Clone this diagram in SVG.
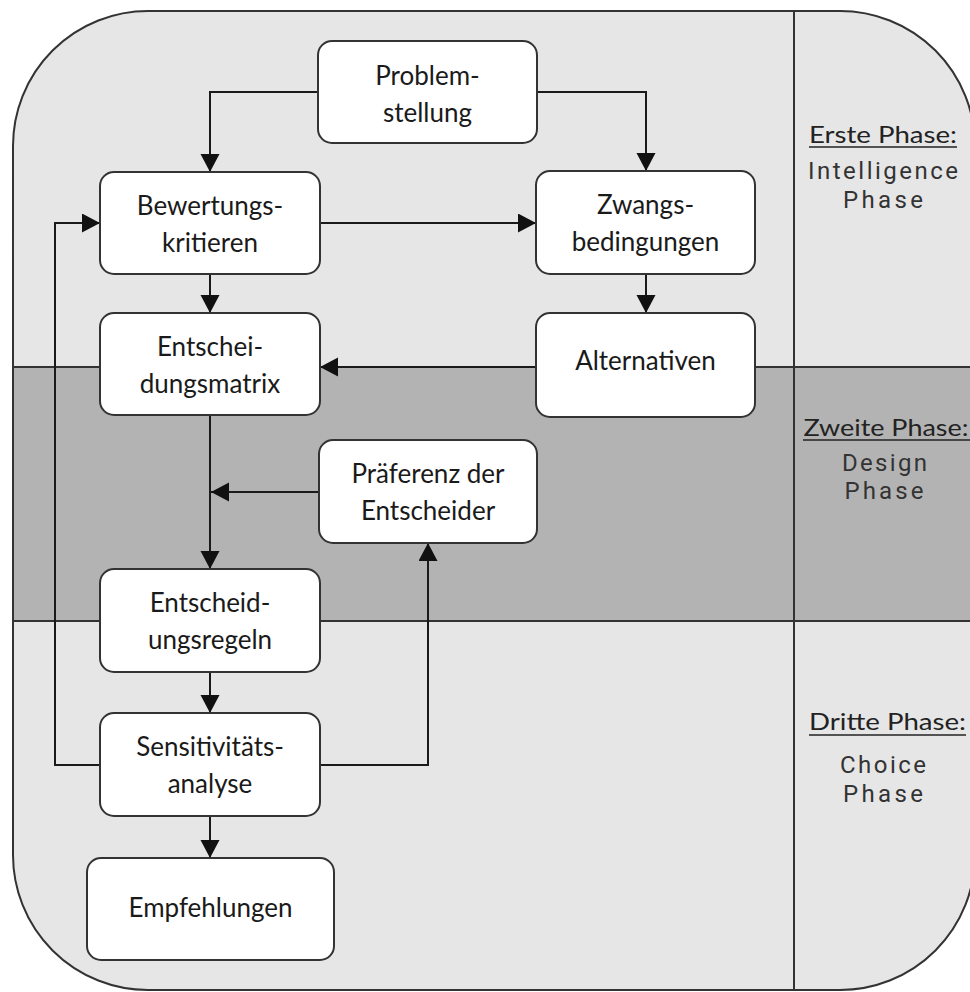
<svg xmlns="http://www.w3.org/2000/svg" width="970" height="992" viewBox="0 0 970 992">
<defs>
<marker id="ah" markerUnits="userSpaceOnUse" markerWidth="20" markerHeight="20" refX="18" refY="9.5" orient="auto">
<path d="M0,0 L18,9.5 L0,19 z" fill="#111"/>
</marker>
<clipPath id="outer"><rect x="13" y="11" width="962" height="979" rx="135" ry="135"/></clipPath>
</defs>
<style>
.node rect{fill:#fff;stroke:#333;stroke-width:2}
.node text{font-family:Lato,"Open Sans","Liberation Sans",sans-serif;font-size:26px;fill:#1a1a1a;text-anchor:middle}
.conn path{fill:none;stroke:#1a1a1a;stroke-width:2}
.conn path.a{marker-end:url(#ah)}
.sep{stroke:#333;stroke-width:2;fill:none}
.ph{font-family:Lato,"Liberation Sans",sans-serif;font-size:23px;fill:#222;text-anchor:middle}
.pn{font-family:Roboto,"Liberation Sans",Arial,sans-serif;font-size:24px;fill:#333;text-anchor:middle}
</style>
<g id="background">
<rect x="13" y="11" width="962" height="979" rx="135" ry="135" fill="#e6e6e6"/>
<rect x="0" y="367" width="980" height="254" fill="#b3b3b3" clip-path="url(#outer)"/>
<line class="sep" x1="13" y1="367" x2="975" y2="367"/>
<line class="sep" x1="13" y1="621" x2="975" y2="621"/>
<line class="sep" x1="794" y1="11" x2="794" y2="990"/>
<rect x="13" y="11" width="962" height="979" rx="135" ry="135" fill="none" stroke="#333" stroke-width="2"/>
</g>
<g id="phases">
<text class="ph" x="883" y="143" textLength="148" lengthAdjust="spacingAndGlyphs">Erste Phase:</text>
<line x1="809" y1="147" x2="957" y2="147" stroke="#222" stroke-width="1.5"/>
<text class="pn" x="883" y="179" textLength="150" lengthAdjust="spacing">Intelligence</text>
<text class="pn" x="883" y="208" textLength="80" lengthAdjust="spacing">Phase</text>
<text class="ph" x="886" y="436" textLength="165" lengthAdjust="spacingAndGlyphs">Zweite Phase:</text>
<line x1="803" y1="440" x2="970" y2="440" stroke="#222" stroke-width="1.5"/>
<text class="pn" x="884.5" y="471" textLength="85" lengthAdjust="spacing">Design</text>
<text class="pn" x="884" y="499" textLength="79" lengthAdjust="spacing">Phase</text>
<text class="ph" x="887.5" y="730" textLength="157" lengthAdjust="spacingAndGlyphs">Dritte Phase:</text>
<line x1="809" y1="735" x2="966" y2="735" stroke="#222" stroke-width="1.5"/>
<text class="pn" x="883" y="773" textLength="86" lengthAdjust="spacing">Choice</text>
<text class="pn" x="883" y="802" textLength="80" lengthAdjust="spacing">Phase</text>
</g>
<g id="connectors" class="conn">
<path class="a" d="M318,92 H210 V172"/>
<path class="a" d="M537,92 H646 V171"/>
<path class="a" d="M320,223 H536"/>
<path class="a" d="M210,274 V313"/>
<path class="a" d="M646,274 V313"/>
<path class="a" d="M536,367 H320"/>
<path class="a" d="M210,415 V569"/>
<path class="a" d="M319,492 H211"/>
<path class="a" d="M210,672 V713"/>
<path class="a" d="M210,816 V858"/>
<path class="a" d="M320,765 H428 V543"/>
<path class="a" d="M100,765 H55 V223 H100"/>
</g>
<g id="n-problem" class="node">
<rect x="318" y="41" width="219" height="102" rx="14"/>
<text x="427.5" y="85">Problem-</text>
<text x="427.5" y="122">stellung</text>
</g>
<g id="n-bewertung" class="node">
<rect x="100" y="172" width="220" height="102" rx="14"/>
<text x="210" y="215">Bewertungs-</text>
<text x="210" y="252">kritieren</text>
</g>
<g id="n-zwang" class="node">
<rect x="536" y="171" width="219" height="103" rx="14"/>
<text x="645.5" y="214">Zwangs-</text>
<text x="645.5" y="251">bedingungen</text>
</g>
<g id="n-matrix" class="node">
<rect x="100" y="313" width="220" height="102" rx="14"/>
<text x="210" y="356">Entschei-</text>
<text x="210" y="393">dungsmatrix</text>
</g>
<g id="n-alternativen" class="node">
<rect x="536" y="313" width="219" height="104" rx="14"/>
<text x="645.5" y="370">Alternativen</text>
</g>
<g id="n-praeferenz" class="node">
<rect x="319" y="440" width="218" height="103" rx="14"/>
<text x="428" y="483">Präferenz der</text>
<text x="428" y="520">Entscheider</text>
</g>
<g id="n-regeln" class="node">
<rect x="100" y="569" width="220" height="103" rx="14"/>
<text x="210" y="612">Entscheid-</text>
<text x="210" y="649">ungsregeln</text>
</g>
<g id="n-sensitiv" class="node">
<rect x="100" y="713" width="220" height="103" rx="14"/>
<text x="210" y="756">Sensitivitäts-</text>
<text x="210" y="793">analyse</text>
</g>
<g id="n-empfehlungen" class="node">
<rect x="87" y="858" width="247" height="102" rx="14"/>
<text x="210.5" y="917">Empfehlungen</text>
</g>
</svg>
